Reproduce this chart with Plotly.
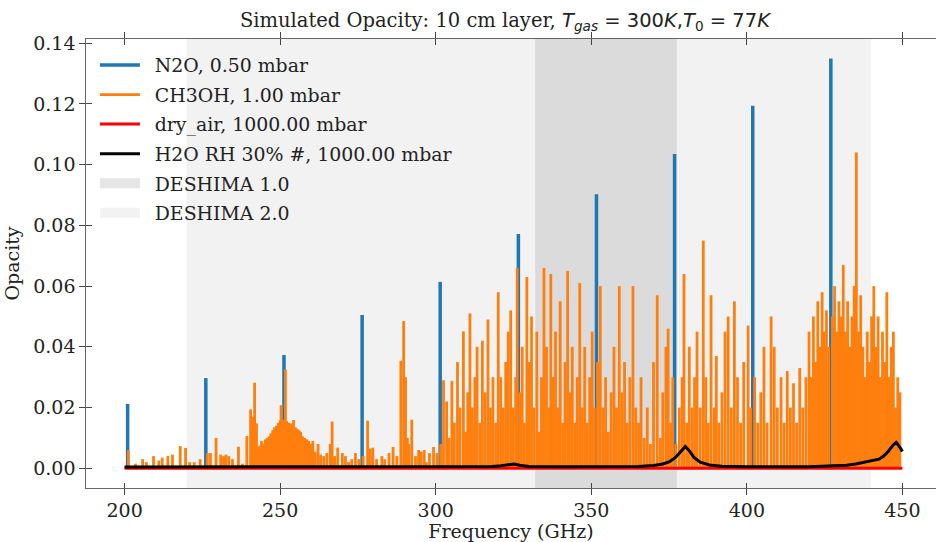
import plotly.graph_objects as go

# ---------------- data ----------------
n2o_freq = [200.98, 226.11, 251.23, 276.35, 301.44, 326.57, 351.67, 376.78, 401.90, 427.00]
n2o_opac = [0.0212, 0.0297, 0.0373, 0.0505, 0.0614, 0.0772, 0.0903, 0.1035, 0.1194, 0.1350]

ch3oh_freq = [
    201.2, 203.5, 205.8, 207.0, 209.3, 211.0, 212.1, 213.9, 215.4, 217.9, 219.6, 220.9,
    222.4, 224.3, 226.6, 227.6, 229.4, 230.9, 231.8, 232.6, 233.5, 234.7, 236.6, 237.9,
    239.3, 240.5, 241.0, 241.4, 241.8, 242.4, 242.9,
    243.5, 244.0, 244.6, 245.2, 245.8, 246.4, 247.0, 247.6, 248.2, 248.8, 249.4, 250.0,
    250.3, 250.8, 251.2, 251.7, 252.1, 252.7, 253.3, 253.9, 254.3, 254.9, 255.5, 256.1,
    256.6, 257.2, 257.9, 258.6, 259.2, 259.8, 260.5, 261.3, 262.2, 263.0, 264.0, 265.0,
    266.1, 266.7, 267.5, 268.5, 270.0, 271.0, 272.0, 273.0, 274.2, 275.3, 276.7, 278.1,
    279.0, 279.8, 281.0, 282.7, 283.6, 285.0, 286.3, 287.5, 288.8, 289.7, 290.3, 290.9,
    291.4, 292.3, 293.5, 294.5, 295.3, 296.3, 297.0, 298.0, 299.3, 300.4, 301.6, 302.5,
    303.5, 304.3, 305.2, 306.0, 307.0, 307.8, 308.9, 309.6,
    310.3, 311.0, 311.8, 312.6, 313.3, 314.2, 315.0, 315.9, 316.8, 317.6, 318.4, 319.3,
    320.1, 320.9, 321.7, 322.5, 323.3, 324.1, 324.9, 325.7, 326.2, 327.0, 327.8, 328.5,
    329.3, 330.1, 330.8, 331.6,
    332.5, 333.3, 334.0, 334.8, 335.6, 336.3, 337.0, 337.8, 338.5, 339.2, 340.0, 340.8,
    341.6, 342.4, 343.1, 343.9, 344.7, 345.5, 346.3, 347.1, 347.9, 348.7, 349.5, 350.3,
    351.0, 352.0, 352.9, 353.8, 354.6, 355.5, 356.4, 357.3, 358.1, 359.0, 359.8, 360.7,
    361.5, 362.4, 363.4, 364.3, 365.2, 366.0, 367.0, 368.0, 369.0, 370.0, 371.2, 372.2,
    373.0, 374.0, 374.7, 375.5, 376.2, 377.2,
    378.3, 379.2, 379.8, 380.7, 381.5, 382.4, 383.2, 384.0, 385.0, 386.0, 386.8, 387.6,
    388.5, 389.5, 390.2, 391.0, 392.0, 393.0, 394.0, 395.0, 396.0, 397.0, 398.0, 399.0,
    400.4, 401.2, 402.5, 403.5, 404.5, 405.5, 406.5, 407.8, 408.8, 409.8, 411.0, 412.0,
    413.0, 414.0, 415.0, 416.0, 417.0, 418.0, 419.0,
    420.0, 420.7, 421.4, 422.1, 422.8, 423.5, 424.2, 424.9, 425.6, 426.3, 427.5, 428.2,
    428.9, 429.6, 430.3, 431.0, 431.7, 432.4, 433.1, 433.8, 434.5, 435.2, 435.9, 436.6,
    437.3, 438.0, 438.7, 439.4, 440.1, 440.8, 441.5, 442.2, 442.9, 443.6, 444.3, 445.0,
    445.7, 446.4, 447.1, 447.8, 448.5, 449.2,
]
ch3oh_opac = [
    0.0060, 0.0015, 0.0030, 0.0020, 0.0040, 0.0025, 0.0035, 0.0040, 0.0045, 0.0073, 0.0067, 0.0020,
    0.0020, 0.0030, 0.0050, 0.0050, 0.0100, 0.0045, 0.0040, 0.0045, 0.0040, 0.0030, 0.0071, 0.0015,
    0.0106, 0.0194, 0.0060, 0.0170, 0.0282, 0.0148, 0.0070,
    0.0075, 0.0090, 0.0080, 0.0095, 0.0100, 0.0105, 0.0115, 0.0125, 0.0135, 0.0140, 0.0150, 0.0158,
    0.0208, 0.0160, 0.0155, 0.0326, 0.0155, 0.0150, 0.0148, 0.0145, 0.0159, 0.0135, 0.0130, 0.0125,
    0.0120, 0.0105, 0.0100, 0.0095, 0.0090, 0.0080, 0.0090, 0.0055, 0.0080, 0.0045, 0.0040, 0.0050,
    0.0080, 0.0154, 0.0040, 0.0068, 0.0050, 0.0040, 0.0020, 0.0030, 0.0050, 0.0030, 0.0040, 0.0157,
    0.0065, 0.0068, 0.0030, 0.0040, 0.0030, 0.0050, 0.0070, 0.0040, 0.0354, 0.0485, 0.0300, 0.0100,
    0.0080, 0.0160, 0.0040, 0.0060, 0.0055, 0.0060, 0.0020, 0.0050, 0.0070, 0.0050, 0.0080, 0.0290,
    0.0220, 0.0100, 0.0288, 0.0150, 0.0350, 0.0200, 0.0451, 0.0120,
    0.025, 0.051, 0.020, 0.030, 0.040, 0.015, 0.042, 0.025, 0.049, 0.020, 0.030, 0.015,
    0.058, 0.030, 0.020, 0.035, 0.045, 0.052, 0.020, 0.030, 0.066, 0.025, 0.040, 0.015,
    0.063, 0.035, 0.050, 0.020,
    0.045, 0.012, 0.030, 0.066, 0.040, 0.020, 0.064, 0.030, 0.045, 0.020, 0.055, 0.015,
    0.035, 0.065, 0.025, 0.040, 0.015, 0.030, 0.061, 0.020, 0.040, 0.015, 0.030, 0.045,
    0.020, 0.035, 0.060, 0.020, 0.030, 0.012, 0.025, 0.040, 0.020, 0.060, 0.025, 0.035,
    0.015, 0.030, 0.060, 0.020, 0.015, 0.030, 0.010, 0.020, 0.008, 0.035, 0.057, 0.010,
    0.025, 0.040, 0.046, 0.015, 0.030, 0.008,
    0.020, 0.030, 0.064, 0.015, 0.040, 0.020, 0.030, 0.045, 0.020, 0.075, 0.030, 0.015,
    0.057, 0.020, 0.037, 0.015, 0.025, 0.045, 0.050, 0.020, 0.055, 0.030, 0.015, 0.035,
    0.047, 0.020, 0.030, 0.015, 0.025, 0.040, 0.015, 0.050, 0.040, 0.020, 0.030, 0.015,
    0.032, 0.020, 0.028, 0.015, 0.033, 0.020, 0.030,
    0.045, 0.030, 0.050, 0.035, 0.055, 0.040, 0.058, 0.045, 0.052, 0.040, 0.050, 0.060,
    0.045, 0.055, 0.050, 0.067, 0.045, 0.055, 0.040, 0.050, 0.060, 0.104, 0.045, 0.057,
    0.040, 0.030, 0.045, 0.035, 0.050, 0.060, 0.040, 0.050, 0.030, 0.045, 0.035, 0.058,
    0.030, 0.040, 0.045, 0.020, 0.030, 0.025,
]

dry_freq = [200.0, 450.0]
dry_opac = [0.0, 0.0]

h2o_freq = [200, 220, 240, 260, 280, 300, 310, 318, 321, 323, 325.2, 327, 330, 340, 355, 365,
            370, 373, 375, 377, 378.5, 380.2, 381.5, 383, 385, 388, 392, 400, 420, 428, 432,
            435, 437, 439, 441, 442.5, 444, 445.5, 447, 448, 449, 450]
h2o_opac = [0.0004, 0.0004, 0.0004, 0.0004, 0.0004, 0.0005, 0.0005, 0.0006, 0.0008, 0.0010,
            0.0014, 0.0010, 0.0006, 0.0005, 0.0005, 0.0006, 0.0009, 0.0014, 0.0021, 0.0035,
            0.0052, 0.0072, 0.0058, 0.0036, 0.0020, 0.0011, 0.0007, 0.0005, 0.0005, 0.0007,
            0.0010, 0.0014, 0.0018, 0.0022, 0.0025, 0.0030, 0.0040, 0.0056, 0.0076, 0.0085,
            0.0072, 0.0055]

deshima1_band = [332.0, 377.5]
deshima2_band = [220.0, 440.0]

x_ticks = [200, 250, 300, 350, 400, 450]
y_ticks = [0.00, 0.02, 0.04, 0.06, 0.08, 0.10, 0.12, 0.14]

labels = ["N2O, 0.50 mbar", "CH3OH, 1.00 mbar", "dry_air, 1000.00 mbar",
          "H2O RH 30% #, 1000.00 mbar", "DESHIMA 1.0", "DESHIMA 2.0"]


def sticks(freqs, vals):
    xs, ys = [], []
    for f, v in zip(freqs, vals):
        xs += [f, f, None]
        ys += [0.0, v, None]
    return xs, ys


FONT = "DejaVu Serif"
PAD = "&nbsp;&#8201;"
fig = go.Figure()

nx, ny = sticks(n2o_freq, n2o_opac)
fig.add_trace(go.Scatter(x=nx, y=ny, mode="lines", name=PAD + labels[0],
                         line=dict(color="#1f77b4", width=3.5), legendgroup="a"))
cx, cy = sticks(ch3oh_freq, ch3oh_opac)
fig.add_trace(go.Scatter(x=cx, y=cy, mode="lines", name=PAD + labels[1],
                         line=dict(color="#ff7f0e", width=2.8), legendgroup="b"))
fig.add_trace(go.Scatter(x=dry_freq, y=dry_opac, mode="lines", name=PAD + labels[2],
                         line=dict(color="#ff0000", width=3), legendgroup="c"))
fig.add_trace(go.Scatter(x=h2o_freq, y=h2o_opac, mode="lines", name=PAD + labels[3],
                         line=dict(color="#000000", width=3), legendgroup="d"))
# legend-only entries for the shaded bands
fig.add_trace(go.Scatter(x=[None], y=[None], mode="lines", name=PAD + labels[4],
                         line=dict(color="rgba(128,128,128,0.2)", width=14), legendgroup="e"))
fig.add_trace(go.Scatter(x=[None], y=[None], mode="lines", name=PAD + labels[5],
                         line=dict(color="rgba(128,128,128,0.1)", width=14), legendgroup="f"))
fig.add_trace(go.Scatter(x=[None], y=[None], xaxis="x2", yaxis="y2", showlegend=False))

fig.add_vrect(x0=deshima2_band[0], x1=deshima2_band[1], fillcolor="gray", opacity=0.1,
              line_width=0, layer="below")
fig.add_vrect(x0=deshima1_band[0], x1=deshima1_band[1], fillcolor="gray", opacity=0.2,
              line_width=0, layer="below")

xr = [187.6, 460.8]
yr = [-0.0065, 0.1414]
axis_common = dict(showgrid=False, zeroline=False, ticklen=5.5, tickwidth=1.2,
                   tickcolor="#444")
title_txt = ('Simulated Opacity: 10 cm layer, '
             '<span style="font-family:DejaVu Sans"><i>T</i><sub><i>gas</i></sub> = 300<i>K</i>,'
             '<i>T</i><sub>0</sub> = 77<i>K</i></span>')

fig.update_layout(
    width=936, height=542,
    margin=dict(l=86, r=0, t=39, b=54),
    paper_bgcolor="white", plot_bgcolor="white",
    font=dict(family=FONT, size=19, color="#222"),
    title=dict(text=title_txt, x=0.5395, xref="container", xanchor="center",
               y=1 - 20 / 542, yref="container", yanchor="middle",
               font=dict(family=FONT, size=19.5, color="#222")),
    xaxis=dict(range=xr, tickvals=x_ticks, ticks="outside", mirror="ticks", showline=True,
               linecolor="#666", linewidth=1.3,
               title=dict(text="Frequency (GHz)", standoff=6, font=dict(size=19)),
               tickfont=dict(size=19), **axis_common),
    yaxis=dict(range=yr, tickvals=y_ticks, tickformat=".2f", ticks="outside", showline=True,
               linecolor="#666", linewidth=1.3,
               title=dict(text="Opacity", standoff=8, font=dict(size=19)),
               tickfont=dict(size=19), **axis_common),
    xaxis2=dict(range=xr, overlaying="x", tickvals=x_ticks, ticks="inside", mirror="ticks",
                showticklabels=False, showline=False, **axis_common),
    yaxis2=dict(range=yr, overlaying="y", tickvals=y_ticks, ticks="inside",
                showticklabels=False, showline=False, **axis_common),
    legend=dict(x=0.0105, y=0.984, xanchor="left", yanchor="top", bgcolor="rgba(0,0,0,0)",
                font=dict(family=FONT, size=18.9, color="#222"), traceorder="grouped",
                tracegroupgap=2, itemwidth=40),
    showlegend=True,
)

fig.write_html("out.html")
